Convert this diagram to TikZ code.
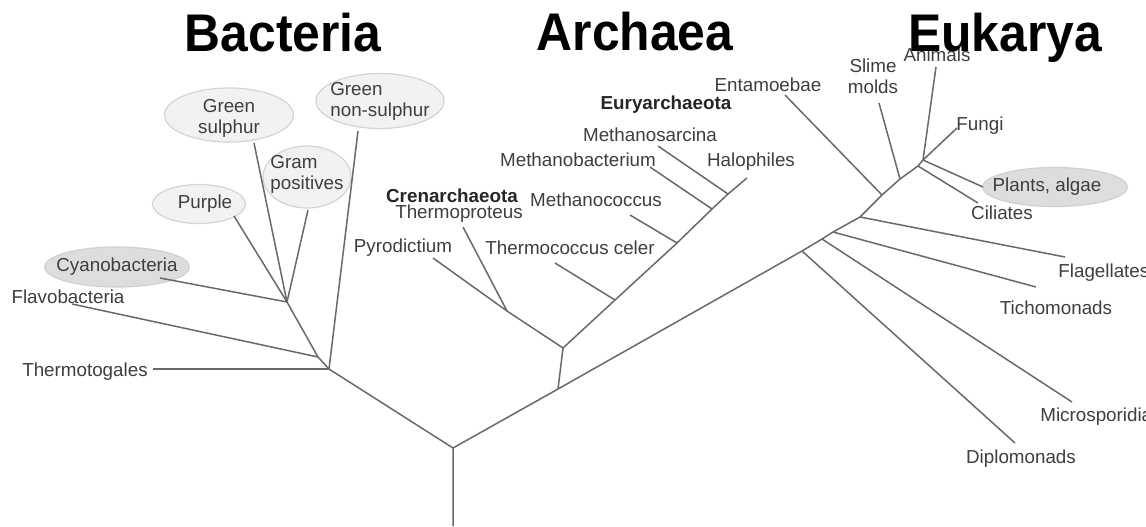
\documentclass[tikz,border=0pt]{standalone}
\usepackage{fontspec}
\setmainfont{Liberation Sans}
\newfontfamily\titlefont[FakeStretch=0.94]{Liberation Sans}
\usetikzlibrary{shapes.geometric}

\definecolor{branchgray}{RGB}{105,105,105}
\definecolor{taxongray}{RGB}{62,62,62}
\definecolor{cladefill}{RGB}{242,242,242}
\definecolor{cladeedge}{RGB}{212,212,212}
\definecolor{cladedarkfill}{RGB}{221,221,221}
\definecolor{cladedarkedge}{RGB}{208,208,208}

\begin{document}
\begin{tikzpicture}[
    x=0.5pt, y=-0.5pt,
    branch/.style={draw=branchgray, line width=0.75pt, line join=round},
    taxon/.style={font=\fontsize{9.4}{10.5}\selectfont, text=taxongray, inner sep=1pt},
    phylum/.style={font=\fontsize{9.4}{10.5}\selectfont\bfseries, text=black!85, inner sep=1pt},
    clade/.style={ellipse, draw=cladeedge, fill=cladefill, line width=0.6pt, inner sep=0pt},
    cladedark/.style={ellipse, draw=cladedarkedge, fill=cladedarkfill, line width=0.6pt, inner sep=0pt},
    domaintitle/.style={font=\titlefont\bfseries\fontsize{26.5}{30}\selectfont, anchor=base, inner sep=0pt}
]
\path[use as bounding box, fill=white] (0,0) rectangle (1146,526);
\clip (0,0) rectangle (1146,526);

% --- junctions of the tree
\coordinate (base)  at (453,526);
\coordinate (r0)    at (453,448);
\coordinate (b0)    at (329,369);
\coordinate (bflav) at (318,357);
\coordinate (b2)    at (287,302);
\coordinate (a0)    at (558,389);
\coordinate (a1)    at (563,348);
\coordinate (a2)    at (507,311);
\coordinate (a3)    at (615,300);
\coordinate (a4)    at (677,243);
\coordinate (a5)    at (712,209);
\coordinate (a6)    at (728,194);
\coordinate (e1)    at (802,251);
\coordinate (e2)    at (822,239);
\coordinate (e3)    at (833,232);
\coordinate (e4)    at (860,217);
\coordinate (e5)    at (882,195);
\coordinate (e6)    at (900,179);
\coordinate (e7)    at (918,166);
\coordinate (e8)    at (923,160);

% --- free ends of the branches
\coordinate (t-thermotog) at (153,369);
\coordinate (t-flavo)     at (72,304);
\coordinate (t-cyano)     at (160,278);
\coordinate (t-purple)    at (234,216);
\coordinate (t-greensul)  at (254,143);
\coordinate (t-grampos)   at (308,210);
\coordinate (t-greennon)  at (358,131);
\coordinate (t-pyro)      at (433,258);
\coordinate (t-thermopr)  at (463,227);
\coordinate (t-thermoco)  at (555,263);
\coordinate (t-mcoccus)   at (630,215);
\coordinate (t-mbact)     at (650,167);
\coordinate (t-msarc)     at (658,146);
\coordinate (t-halo)      at (747,178);
\coordinate (t-entam)     at (785,95);
\coordinate (t-slime)     at (879,103);
\coordinate (t-animals)   at (936,67);
\coordinate (t-fungi)     at (957,128);
\coordinate (t-plants)    at (983,187);
\coordinate (t-ciliates)  at (978,203);
\coordinate (t-flag)      at (1065,257);
\coordinate (t-tricho)    at (1036,287);
\coordinate (t-micro)     at (1072,402);
\coordinate (t-diplo)     at (1015,443);

% --- Bacteria
\node[taxon] (thermotog) at (85,372) {Thermotogales};
\node[taxon] (flavo) at (68,297) {Flavobacteria};
\node[cladedark, minimum width=72.5pt, minimum height=20pt,
      label={[taxon]center:Cyanobacteria}] (cyano) at (117,267) {};
\node[clade, minimum width=46.5pt, minimum height=19.5pt,
      label={[taxon, xshift=3pt]center:Purple}] (purple) at (199,204) {};
\node[clade, minimum width=64.5pt, minimum height=27pt,
      label={[taxon, align=center, yshift=-1.5pt]center:Green\\sulphur}] (greensul) at (229,115) {};
\node[clade, minimum width=44pt, minimum height=31pt,
      label={[taxon, align=left, yshift=1.5pt]center:Gram\\positives}] (grampos) at (307,177) {};
\node[clade, minimum width=64pt, minimum height=27.5pt,
      label={[taxon, align=left]center:Green\\non-sulphur}] (greennon) at (380,101) {};

% --- Archaea
\node[taxon] (pyro) at (403,248) {Pyrodictium};
\node[phylum] (crenarch) at (452,196) {Crenarchaeota};
\node[taxon] (thermopr) at (459,214) {Thermoproteus};
\node[taxon] (thermoco) at (570,248) {Thermococcus celer};
\node[taxon] (mcoccus) at (596,200) {Methanococcus};
\node[taxon] (mbact) at (578,160) {Methanobacterium};
\node[taxon] (msarc) at (650,135) {Methanosarcina};
\node[phylum] (euryarch) at (666,105) {Euryarchaeota};
\node[taxon] (halo) at (751,162) {Halophiles};

% --- Eukarya
\node[taxon] (entam) at (768,85) {Entamoebae};
\node[taxon, align=center] (slime) at (873,76) {Slime\\molds};
\node[taxon] (animals) at (937,55) {Animals};
\node[taxon] (fungi) at (980,126) {Fungi};
\node[cladedark, minimum width=72.5pt, minimum height=19.5pt,
      label={[taxon, xshift=-4pt]center:{Plants, algae}}] (plants) at (1055,187) {};
\node[taxon] (ciliates) at (1002,213) {Ciliates};
\node[taxon, anchor=west] (flag) at (1056,273) {Flagellates};
\node[taxon] (tricho) at (1056,308) {Tichomonads};
\node[taxon, anchor=west] (micro) at (1038,417) {Microsporidia};
\node[taxon] (diplo) at (1021,459) {Diplomonads};

% --- branches
\draw[branch] (base) -- (r0) -- (b0) -- (bflav) -- (b2);
\draw[branch] (b0) -- (t-thermotog);
\draw[branch] (bflav) -- (t-flavo);
\draw[branch] (b0) -- (t-greennon);
\draw[branch] (b2) -- (t-cyano);
\draw[branch] (b2) -- (t-purple);
\draw[branch] (b2) -- (t-greensul);
\draw[branch] (b2) -- (t-grampos);

\draw[branch] (r0) -- (a0) -- (e1) -- (e2) -- (e3) -- (e4) -- (e5) -- (e6) -- (e7) -- (e8);
\draw[branch] (a0) -- (a1) -- (a2) -- (t-pyro);
\draw[branch] (a2) -- (t-thermopr);
\draw[branch] (a1) -- (a3) -- (a4) -- (a5) -- (a6) -- (t-halo);
\draw[branch] (a3) -- (t-thermoco);
\draw[branch] (a4) -- (t-mcoccus);
\draw[branch] (a5) -- (t-mbact);
\draw[branch] (a6) -- (t-msarc);

\draw[branch] (e1) -- (t-diplo);
\draw[branch] (e2) -- (t-micro);
\draw[branch] (e3) -- (t-tricho);
\draw[branch] (e4) -- (t-flag);
\draw[branch] (e5) -- (t-entam);
\draw[branch] (e6) -- (t-slime);
\draw[branch] (e7) -- (t-ciliates);
\draw[branch] (e8) -- (t-plants);
\draw[branch] (e8) -- (t-fungi);
\draw[branch] (e8) -- (t-animals);

% --- domain titles
\node[domaintitle] (bacteria) at (283,51) {Bacteria};
\node[domaintitle] (archaea) at (635,50) {Archaea};
\node[domaintitle] (eukarya) at (1005,51) {Eukarya};
\end{tikzpicture}
\end{document}
